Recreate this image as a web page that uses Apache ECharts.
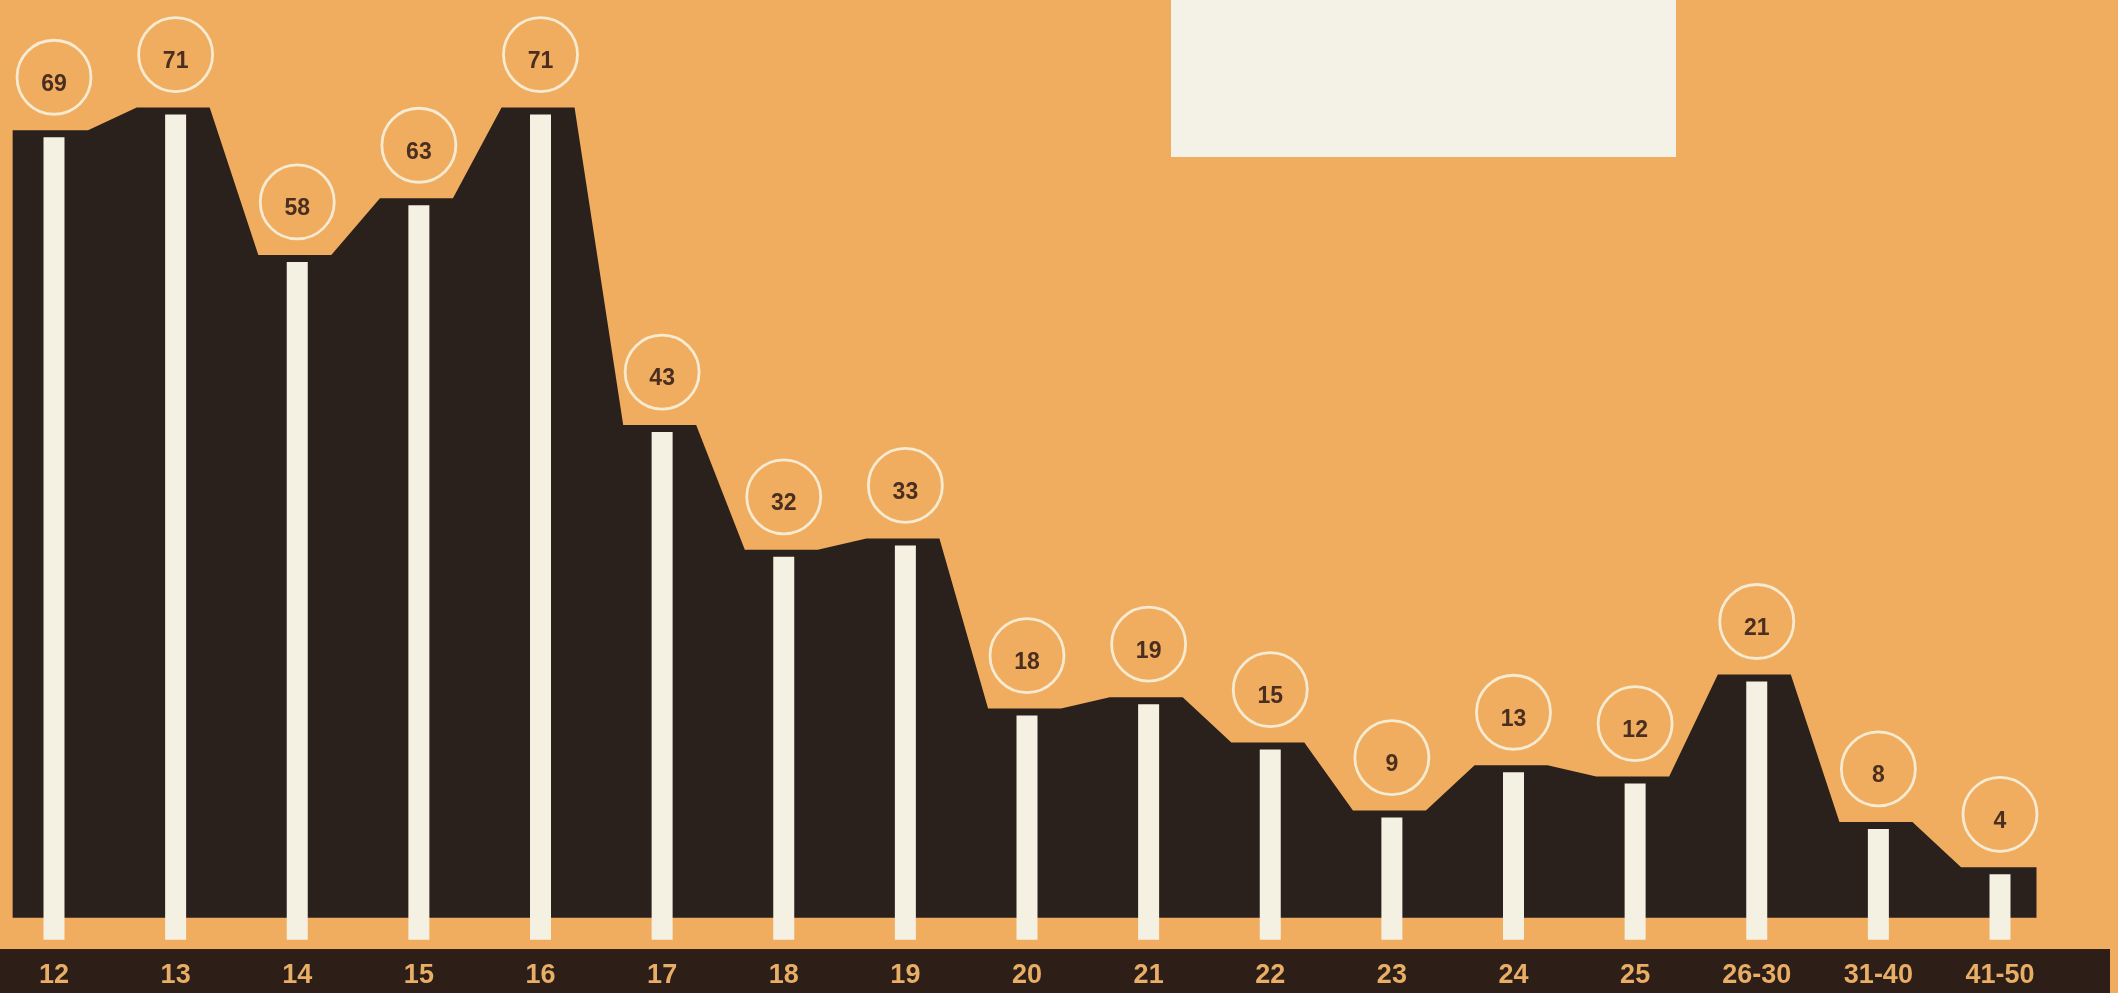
<!DOCTYPE html>
<html>
<head>
<meta charset="utf-8">
<script src="https://cdn.jsdelivr.net/npm/echarts@6/dist/echarts.min.js"></script>
<style>
html,body{margin:0;padding:0;background:#f0ad60;}
#chart{width:2118px;height:993px;}
</style>
</head>
<body>
<div id="chart"></div>
<script>
const categories = ['12','13','14','15','16','17','18','19','20','21','22','23','24','25','26-30','31-40','41-50'];
const counts = [69,71,58,63,71,43,32,33,18,19,15,9,13,12,21,8,4];

const BG = '#f0ad60';
const DARK = '#2a201c';
const CREAM = '#f4f0e2';
const RING = '#f6ead0';
const TXT = '#4a2f20';
const LABEL = '#e8ae66';

// dark silhouette: a flat shoulder around every category, joined by slopes
const profile = [];
counts.forEach(function (v, i) {
  const l = i === 0 ? 0.34 : 0.32;
  const r = i === counts.length - 1 ? 0.3 : 0.28;
  profile.push([i - l, v]);
  profile.push([i + r, v]);
});
const SIL_BASE = -0.45;
const BAR_BASE = -2.4;
const barData = counts.map(function (v, i) { return [i, v]; });

const chart = echarts.init(document.getElementById('chart'), null, {renderer: 'canvas'});
chart.setOption({
  backgroundColor: BG,
  animation: false,
  grid: {left: 54, right: 118, top: 5.5, bottom: 35},
  xAxis: {
    type: 'value', min: 0, max: 16, interval: 1,
    axisLine: {show: false}, axisTick: {show: false}, splitLine: {show: false},
    axisLabel: {show: false}
  },
  yAxis: {type: 'value', min: -4, max: 80, show: false},
  graphic: [
    {type: 'rect', z: 0, shape: {x: 0, y: 949, width: 2110, height: 44}, style: {fill: '#2d1e18'}},
    {type: 'rect', z: 0, shape: {x: 1171, y: 0, width: 505, height: 157}, style: {fill: '#f4f2e6'}}
  ],
  series: [
    {
      type: 'custom',
      name: 'silhouette',
      data: [0],
      clip: false,
      z: 2,
      renderItem: function (params, api) {
        const pts = profile.map(function (p) { return api.coord(p); });
        const first = api.coord([profile[0][0], SIL_BASE]);
        const last = api.coord([profile[profile.length - 1][0], SIL_BASE]);
        pts.push(last);
        pts.push(first);
        return {type: 'polygon', shape: {points: pts}, style: {fill: DARK}};
      }
    },
    {
      type: 'custom',
      name: 'bars',
      data: barData,
      clip: false,
      z: 3,
      renderItem: function (params, api) {
        const top = api.coord([api.value(0), api.value(1)]);
        const bottom = api.coord([api.value(0), BAR_BASE]);
        const w = 21;
        return {
          type: 'rect',
          shape: {x: top[0] - w / 2, y: top[1] + 7, width: w, height: bottom[1] - top[1] - 7},
          style: {fill: CREAM}
        };
      }
    },
    {
      type: 'custom',
      name: 'values',
      data: barData,
      clip: false,
      z: 4,
      renderItem: function (params, api) {
        const p = api.coord([api.value(0), api.value(1)]);
        const cx = p[0], cy = p[1] - 53;
        return {
          type: 'group',
          children: [
            {type: 'circle', shape: {cx: cx, cy: cy, r: 37}, style: {fill: 'none', stroke: RING, lineWidth: 2.8}},
            {type: 'text', x: cx, y: cy + 7, style: {
              text: String(api.value(1)), align: 'center', verticalAlign: 'middle',
              fill: TXT, fontSize: 23, fontWeight: 'bold',
              fontFamily: "'Liberation Sans','Arial',sans-serif"
            }}
          ]
        };
      }
    },
    {
      type: 'custom',
      name: 'categories',
      data: categories.map(function (c, i) { return [i, 0]; }),
      clip: false,
      z: 5,
      renderItem: function (params, api) {
        const p = api.coord([api.value(0), 0]);
        return {
          type: 'text', x: p[0], y: 976,
          style: {
            text: categories[params.dataIndex], align: 'center', verticalAlign: 'middle',
            fill: LABEL, fontSize: 27, fontWeight: 'bold',
            fontFamily: "'Liberation Sans','Arial',sans-serif"
          }
        };
      }
    }
  ]
});
</script>
</body>
</html>
